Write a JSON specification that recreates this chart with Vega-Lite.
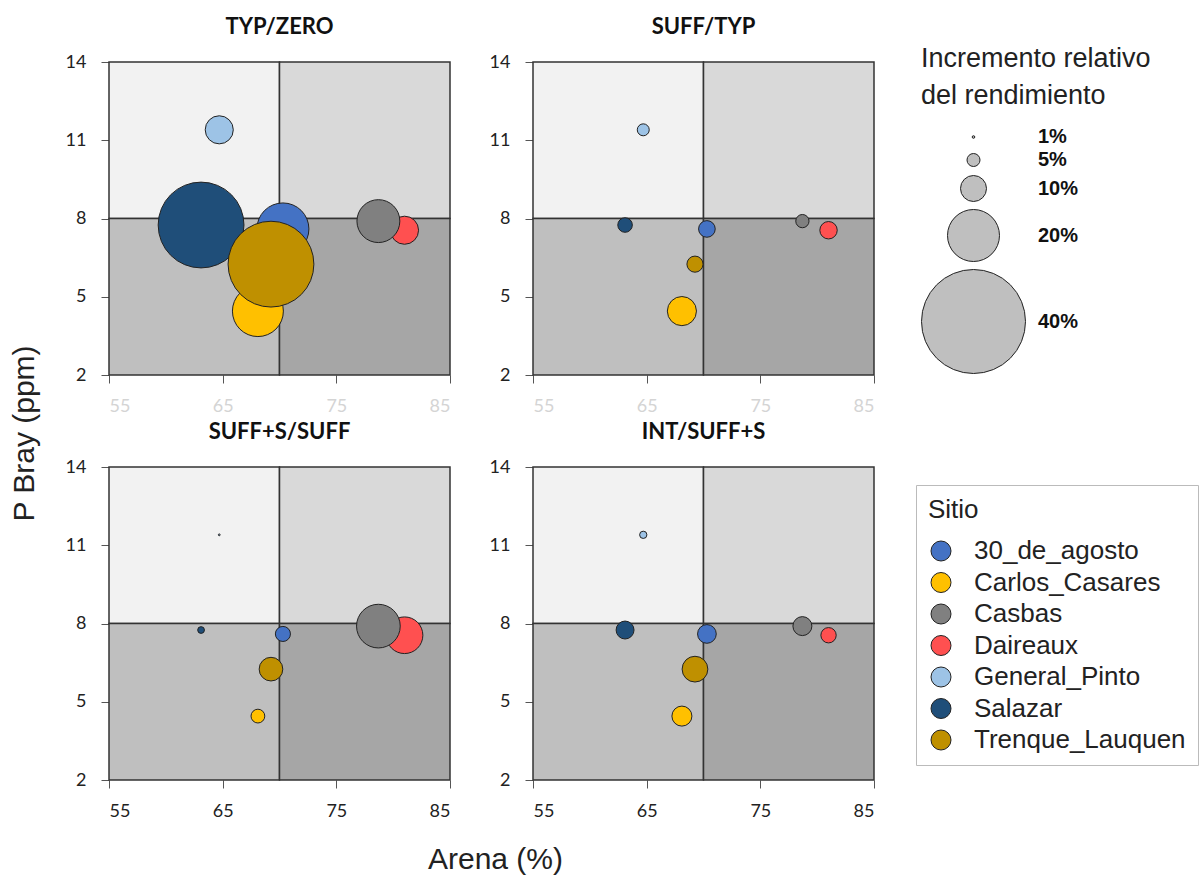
{
  "$schema": "https://vega.github.io/schema/vega-lite/v6.json",
  "background": "white",
  "padding": {"left": 9, "top": 16, "right": 2, "bottom": 2},
  "config": {
    "view": {"stroke": null},
    "axis": {"grid": false, "domain": false, "labelFont": "Lato", "labelFontSize": 18, "labelColor": "#222", "tickSize": 8, "tickColor": "#555", "labelPadding": 14, "titleFont": "Liberation Sans", "titleFontSize": 30, "titleFontWeight": "normal", "titleColor": "#222"},
    "title": {"font": "Lato", "fontSize": 22, "fontWeight": "bold", "color": "#111", "offset": 14},
    "legend": {"symbolBaseFillColor": "#bfbfbf", "symbolBaseStrokeColor": "#222"}
  },
  "datasets": {
    "quad": [
      {"q": "TL", "arena": 55, "arena_end": 70, "pbray": 8, "pbray_end": 14},
      {"q": "TR", "arena": 70, "arena_end": 85, "pbray": 8, "pbray_end": 14},
      {"q": "BL", "arena": 55, "arena_end": 70, "pbray": 2, "pbray_end": 8},
      {"q": "BR", "arena": 70, "arena_end": 85, "pbray": 2, "pbray_end": 8}
    ],
    "bubbles": [
      {"panel": "TYP/ZERO", "sitio": "Daireaux", "arena": 81.0, "pbray": 7.55, "inc": 10.8},
      {"panel": "TYP/ZERO", "sitio": "Casbas", "arena": 78.7, "pbray": 7.9, "inc": 16.5},
      {"panel": "TYP/ZERO", "sitio": "General_Pinto", "arena": 64.7, "pbray": 11.4, "inc": 10.8},
      {"panel": "TYP/ZERO", "sitio": "Salazar", "arena": 63.1, "pbray": 7.75, "inc": 33},
      {"panel": "TYP/ZERO", "sitio": "30_de_agosto", "arena": 70.3, "pbray": 7.6, "inc": 20},
      {"panel": "TYP/ZERO", "sitio": "Carlos_Casares", "arena": 68.1, "pbray": 4.45, "inc": 19.6},
      {"panel": "TYP/ZERO", "sitio": "Trenque_Lauquen", "arena": 69.25, "pbray": 6.25, "inc": 33},
      {"panel": "SUFF/TYP", "sitio": "Daireaux", "arena": 81.0, "pbray": 7.55, "inc": 6.7},
      {"panel": "SUFF/TYP", "sitio": "Casbas", "arena": 78.7, "pbray": 7.9, "inc": 5.1},
      {"panel": "SUFF/TYP", "sitio": "General_Pinto", "arena": 64.7, "pbray": 11.4, "inc": 4.6},
      {"panel": "SUFF/TYP", "sitio": "Salazar", "arena": 63.1, "pbray": 7.75, "inc": 5.6},
      {"panel": "SUFF/TYP", "sitio": "30_de_agosto", "arena": 70.3, "pbray": 7.6, "inc": 6.4},
      {"panel": "SUFF/TYP", "sitio": "Carlos_Casares", "arena": 68.1, "pbray": 4.45, "inc": 11.2},
      {"panel": "SUFF/TYP", "sitio": "Trenque_Lauquen", "arena": 69.25, "pbray": 6.25, "inc": 6.2},
      {"panel": "SUFF+S/SUFF", "sitio": "Daireaux", "arena": 81.0, "pbray": 7.55, "inc": 14.1},
      {"panel": "SUFF+S/SUFF", "sitio": "Casbas", "arena": 78.7, "pbray": 7.9, "inc": 16.8},
      {"panel": "SUFF+S/SUFF", "sitio": "General_Pinto", "arena": 64.7, "pbray": 11.4, "inc": 0.7},
      {"panel": "SUFF+S/SUFF", "sitio": "Salazar", "arena": 63.1, "pbray": 7.75, "inc": 2.6},
      {"panel": "SUFF+S/SUFF", "sitio": "30_de_agosto", "arena": 70.3, "pbray": 7.6, "inc": 5.8},
      {"panel": "SUFF+S/SUFF", "sitio": "Carlos_Casares", "arena": 68.1, "pbray": 4.45, "inc": 5.3},
      {"panel": "SUFF+S/SUFF", "sitio": "Trenque_Lauquen", "arena": 69.25, "pbray": 6.25, "inc": 9.1},
      {"panel": "INT/SUFF+S", "sitio": "Daireaux", "arena": 81.0, "pbray": 7.55, "inc": 5.9},
      {"panel": "INT/SUFF+S", "sitio": "Casbas", "arena": 78.7, "pbray": 7.9, "inc": 7.3},
      {"panel": "INT/SUFF+S", "sitio": "General_Pinto", "arena": 64.7, "pbray": 11.4, "inc": 2.8},
      {"panel": "INT/SUFF+S", "sitio": "Salazar", "arena": 63.1, "pbray": 7.75, "inc": 6.9},
      {"panel": "INT/SUFF+S", "sitio": "30_de_agosto", "arena": 70.3, "pbray": 7.6, "inc": 7.2},
      {"panel": "INT/SUFF+S", "sitio": "Carlos_Casares", "arena": 68.1, "pbray": 4.45, "inc": 7.7},
      {"panel": "INT/SUFF+S", "sitio": "Trenque_Lauquen", "arena": 69.25, "pbray": 6.25, "inc": 9.9}
    ]
  },
  "columns": 2,
  "spacing": {"row": 92, "column": 83},
  "bounds": "flush",
  "resolve": {"scale": {"color": "shared", "size": "shared", "x": "shared", "y": "shared"}},
  "concat": [
    {
      "width": 341, "height": 313,
      "title": "TYP/ZERO",
      "encoding": {
        "x": {"field": "arena", "type": "quantitative", "scale": {"domain": [55, 85], "nice": false, "zero": false}, "axis": {"values": [55, 65, 75, 85], "title": null, "labelColor": "#d4d4d4"}},
        "y": {"field": "pbray", "type": "quantitative", "scale": {"domain": [2, 14], "nice": false, "zero": false}, "axis": {"values": [2, 5, 8, 11, 14], "labelPadding": 15, "title": "P Bray (ppm)", "titleY": 371, "titlePadding": 26}}
      },
      "layer": [
        {"data": {"name": "quad"}, "mark": {"type": "rect", "stroke": "#333", "strokeWidth": 1.5},
         "encoding": {"x2": {"field": "arena_end"}, "y2": {"field": "pbray_end"},
           "fill": {"field": "q", "type": "nominal", "scale": {"domain": ["TL", "TR", "BL", "BR"], "range": ["#f2f2f2", "#d9d9d9", "#bfbfbf", "#a6a6a6"]}, "legend": null}}},
        {"data": {"name": "bubbles"}, "transform": [{"filter": "datum.panel === 'TYP/ZERO'"}],
         "mark": {"type": "circle", "opacity": 1, "stroke": "#222", "strokeWidth": 1},
         "encoding": {
           "color": {"field": "sitio", "type": "nominal", "title": "Sitio", "scale": {"domain": ["30_de_agosto", "Carlos_Casares", "Casbas", "Daireaux", "General_Pinto", "Salazar", "Trenque_Lauquen"], "range": ["#4472C4", "#FFC000", "#808080", "#FF5050", "#9DC3E6", "#1F4E79", "#BF9000"]},
             "legend": {"orient": "none", "legendX": 807, "legendY": 423, "titleFont": "Liberation Sans", "titleFontSize": 26, "titleFontWeight": "normal", "titleColor": "#222", "titlePadding": 15, "labelFont": "Liberation Sans", "labelFontSize": 26, "labelColor": "#222", "labelOffset": 20, "symbolType": "circle", "symbolSize": 400, "symbolStrokeColor": "#222", "symbolStrokeWidth": 1, "symbolOpacity": 1, "rowPadding": 5.5, "padding": 12, "strokeColor": "#bbbbbb", "labelLimit": 400}},
           "size": {"field": "inc", "type": "quantitative", "scale": {"type": "pow", "exponent": 2, "domain": [0, 40], "range": [0, 10816]},
             "legend": {"orient": "none", "legendX": 812, "legendY": -16, "title": ["Incremento relativo", "del rendimiento"], "titleFont": "Liberation Sans", "titleFontSize": 27, "titleFontWeight": "normal", "titleColor": "#222", "titleLineHeight": 37, "titlePadding": 17, "titleLimit": 400, "values": [1, 5, 10, 20, 40], "labelExpr": "datum.label + '%'", "labelFont": "Liberation Sans", "labelFontWeight": "bold", "labelFontSize": 20, "labelColor": "#111", "labelOffset": 12, "symbolType": "circle", "symbolFillColor": "#bfbfbf", "symbolStrokeColor": "#222", "symbolStrokeWidth": 1, "symbolOpacity": 1, "rowPadding": 3, "padding": 0}}
         }}
      ]
    },
    {
      "width": 341, "height": 313,
      "title": "SUFF/TYP",
      "encoding": {
        "x": {"field": "arena", "type": "quantitative", "scale": {"domain": [55, 85], "nice": false, "zero": false}, "axis": {"values": [55, 65, 75, 85], "title": null, "labelColor": "#d4d4d4"}},
        "y": {"field": "pbray", "type": "quantitative", "scale": {"domain": [2, 14], "nice": false, "zero": false}, "axis": {"values": [2, 5, 8, 11, 14], "labelPadding": 15, "title": null}}
      },
      "layer": [
        {"data": {"name": "quad"}, "mark": {"type": "rect", "stroke": "#333", "strokeWidth": 1.5},
         "encoding": {"x2": {"field": "arena_end"}, "y2": {"field": "pbray_end"},
           "fill": {"field": "q", "type": "nominal", "scale": {"domain": ["TL", "TR", "BL", "BR"], "range": ["#f2f2f2", "#d9d9d9", "#bfbfbf", "#a6a6a6"]}, "legend": null}}},
        {"data": {"name": "bubbles"}, "transform": [{"filter": "datum.panel === 'SUFF/TYP'"}],
         "mark": {"type": "circle", "opacity": 1, "stroke": "#222", "strokeWidth": 1},
         "encoding": {
           "color": {"field": "sitio", "type": "nominal", "title": "Sitio"},
           "size": {"field": "inc", "type": "quantitative"}
         }}
      ]
    },
    {
      "width": 341, "height": 311,
      "title": "SUFF+S/SUFF",
      "encoding": {
        "x": {"field": "arena", "type": "quantitative", "scale": {"domain": [55, 85], "nice": false, "zero": false}, "axis": {"values": [55, 65, 75, 85], "title": "Arena (%)", "titleX": 386, "titlePadding": 24}},
        "y": {"field": "pbray", "type": "quantitative", "scale": {"domain": [2, 14], "nice": false, "zero": false}, "axis": {"values": [2, 5, 8, 11, 14], "labelPadding": 15, "title": null}}
      },
      "layer": [
        {"data": {"name": "quad"}, "mark": {"type": "rect", "stroke": "#333", "strokeWidth": 1.5},
         "encoding": {"x2": {"field": "arena_end"}, "y2": {"field": "pbray_end"},
           "fill": {"field": "q", "type": "nominal", "scale": {"domain": ["TL", "TR", "BL", "BR"], "range": ["#f2f2f2", "#d9d9d9", "#bfbfbf", "#a6a6a6"]}, "legend": null}}},
        {"data": {"name": "bubbles"}, "transform": [{"filter": "datum.panel === 'SUFF+S/SUFF'"}],
         "mark": {"type": "circle", "opacity": 1, "stroke": "#222", "strokeWidth": 1},
         "encoding": {
           "color": {"field": "sitio", "type": "nominal", "title": "Sitio"},
           "size": {"field": "inc", "type": "quantitative"}
         }}
      ]
    },
    {
      "width": 341, "height": 311,
      "title": "INT/SUFF+S",
      "encoding": {
        "x": {"field": "arena", "type": "quantitative", "scale": {"domain": [55, 85], "nice": false, "zero": false}, "axis": {"values": [55, 65, 75, 85], "title": null}},
        "y": {"field": "pbray", "type": "quantitative", "scale": {"domain": [2, 14], "nice": false, "zero": false}, "axis": {"values": [2, 5, 8, 11, 14], "labelPadding": 15, "title": null}}
      },
      "layer": [
        {"data": {"name": "quad"}, "mark": {"type": "rect", "stroke": "#333", "strokeWidth": 1.5},
         "encoding": {"x2": {"field": "arena_end"}, "y2": {"field": "pbray_end"},
           "fill": {"field": "q", "type": "nominal", "scale": {"domain": ["TL", "TR", "BL", "BR"], "range": ["#f2f2f2", "#d9d9d9", "#bfbfbf", "#a6a6a6"]}, "legend": null}}},
        {"data": {"name": "bubbles"}, "transform": [{"filter": "datum.panel === 'INT/SUFF+S'"}],
         "mark": {"type": "circle", "opacity": 1, "stroke": "#222", "strokeWidth": 1},
         "encoding": {
           "color": {"field": "sitio", "type": "nominal", "title": "Sitio"},
           "size": {"field": "inc", "type": "quantitative"}
         }}
      ]
    }
  ]
}
